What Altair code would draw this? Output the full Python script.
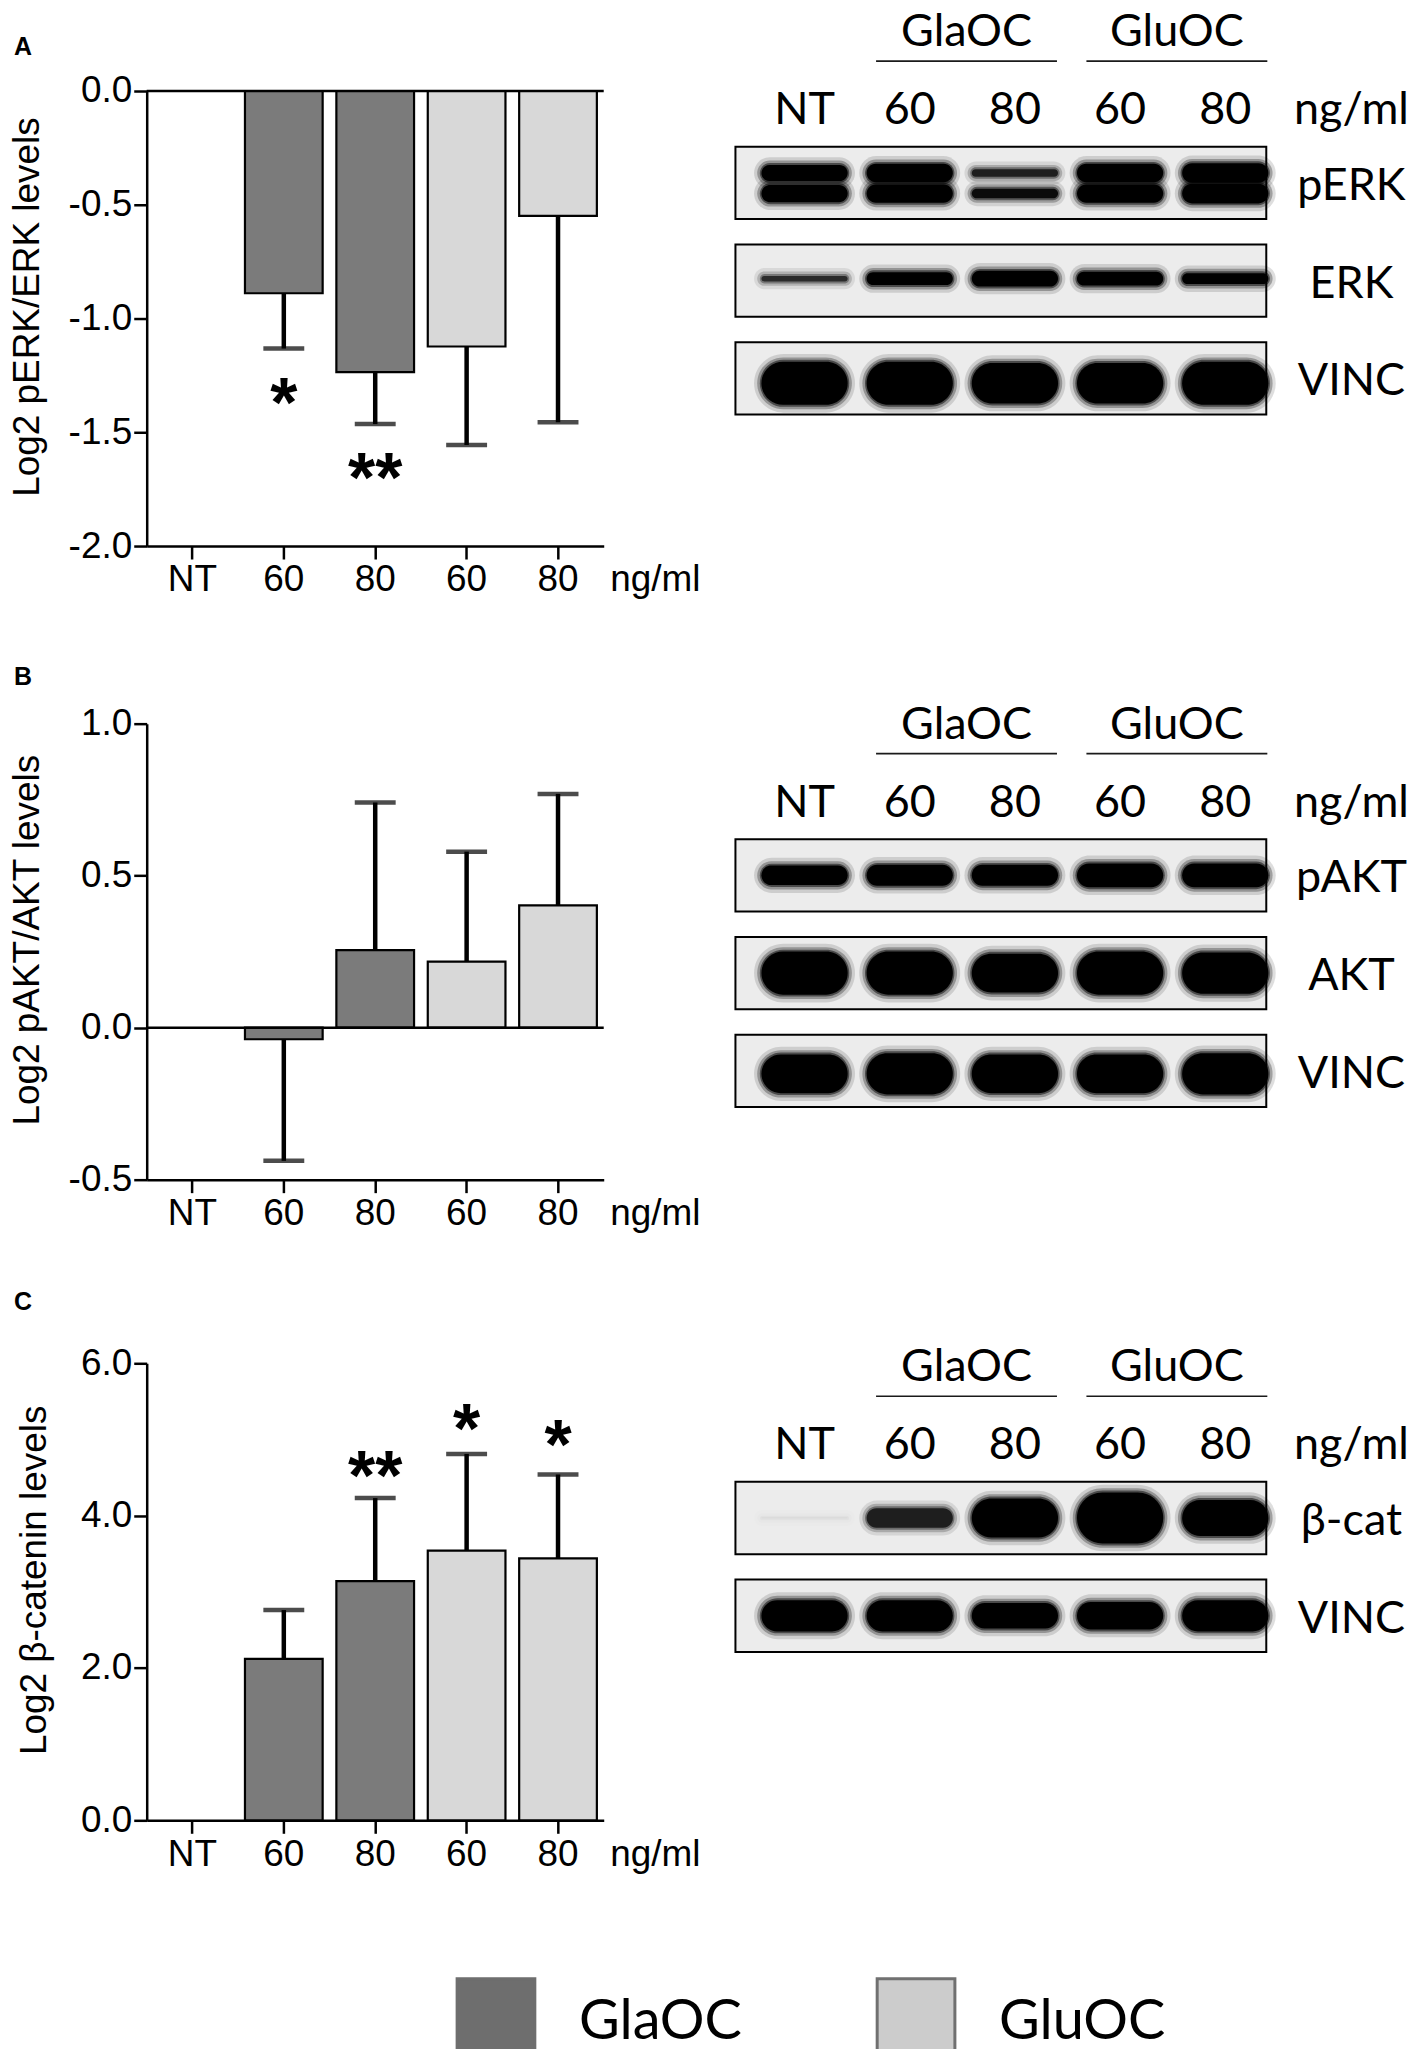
import altair as alt
import numpy as np
import pandas as pd

# ---------------- values ----------------
lane_keys = ["NT", "GlaOC 60", "GlaOC 80", "GluOC 60", "GluOC 80"]
lane_labels = ["NT", "60", "80", "60", "80"]
lane_groups = ["NT", "GlaOC", "GlaOC", "GluOC", "GluOC"]
group_names = ["GlaOC", "GluOC"]
dose_unit = "ng/ml"

# Panel A : Log2 pERK/ERK
perk_mean = [0.0, -0.889, -1.236, -1.123, -0.549]
perk_err = [0.0, 0.243, 0.228, 0.433, 0.907]
perk_stars = ["", "*", "**", "", ""]
perk_star_at = [np.nan, -1.30, -1.63, np.nan, np.nan]
perk_ticks = [0.0, -0.5, -1.0, -1.5, -2.0]

# Panel B : Log2 pAKT/AKT
pakt_mean = [0.0, -0.038, 0.255, 0.217, 0.402]
pakt_err = [0.0, 0.400, 0.486, 0.362, 0.367]
pakt_stars = ["", "", "", "", ""]
pakt_star_at = [np.nan, np.nan, np.nan, np.nan, np.nan]
pakt_ticks = [1.0, 0.5, 0.0, -0.5]

# Panel C : Log2 beta-catenin
bcat_mean = [0.0, 2.12, 3.14, 3.54, 3.44]
bcat_err = [0.0, 0.64, 1.09, 1.27, 1.10]
bcat_stars = ["", "", "**", "*", "*"]
bcat_star_at = [np.nan, np.nan, 4.73, 5.34, 5.13]
bcat_ticks = [0.0, 2.0, 4.0, 6.0]

# Western blot band strengths per lane (0 = no band, 1 = saturated)
perk_upper = [0.85, 0.95, 0.45, 0.95, 1.0]
perk_lower = [0.90, 0.95, 0.55, 0.95, 1.0]
erk_band = [0.40, 0.80, 0.95, 0.85, 0.70]
vinc_a = [1.0, 1.0, 0.95, 0.95, 1.0]
pakt_band = [0.80, 0.85, 0.85, 0.95, 0.95]
akt_band = [1.0, 1.0, 0.92, 1.0, 0.97]
vinc_b = [0.95, 1.0, 0.95, 0.95, 1.0]
bcat_band = [0.03, 0.45, 0.80, 1.0, 0.75]
vinc_c = [0.95, 0.95, 0.80, 0.85, 0.95]

# ---------------- styling / layout ----------------
FONT = "Liberation Sans, Arial, Helvetica, sans-serif"
BLOT_FONT = "Lato, 'Open Sans', sans-serif"
BAR_W = 458
BLOT_W = 673
COL_GAP = 132
ROW_GAP = 160
BAR_DARK, BAR_LIGHT = "#7b7b7b", "#d8d8d8"

UNIT_PX = 98.0
BLOT_X_DOMAIN = [-0.657, 5.728]
BOX_X = (-0.657, 4.39)
BOX_HALF = 0.37
LANE_HALF = 0.41
FIRST_ROW = 2
LABEL_X = 5.2
HEADER_Y = 0.458
HEADER_LINE_Y = 0.755
LANE_Y = 1.258
# (extra half-height, extra half-width, opacity factor)
HALOS = [(0.0, 0.0, 1.0), (0.02, 0.015, 0.5), (0.045, 0.04, 0.28), (0.08, 0.07, 0.13)]

Y_LABEL_EXPR = "(datum.value < 0 ? '-' : '') + format(abs(datum.value), '.1f')"
X_LABEL_EXPR = "datum.value == 'NT' ? 'NT' : slice(datum.value, -2)"


def bar_panel(letter, letter_offset, ytitle, title_x, means, errs, stars, star_at,
              ticks, height, zero_rule):
    df = pd.DataFrame({"key": lane_keys, "group": lane_groups, "mean": means,
                       "err": errs, "star": stars, "star_at": star_at})
    df["end"] = df["mean"] + np.sign(df["mean"]) * df["err"]
    df["base"] = 0.0
    bars = df[df["key"] != "NT"]
    stars_df = df[df["star"] != ""]

    xsc = alt.Scale(domain=lane_keys, paddingInner=0.15, paddingOuter=0.075)
    xaxis = alt.Axis(title=dose_unit, labelExpr=X_LABEL_EXPR, labelAngle=0,
                     labelFont=FONT, labelFontSize=37, labelColor="black", labelPadding=3,
                     tickSize=13, tickWidth=2.5, tickColor="black",
                     domainColor="black", domainWidth=2.5, grid=False,
                     titleFont=FONT, titleFontSize=37, titleFontWeight="normal",
                     titleColor="black", titleX=BAR_W + 6, titleY=45,
                     titleAlign="left", titleBaseline="alphabetic")
    ysc = alt.Scale(domain=[min(ticks), max(ticks)], nice=False, zero=False)
    yaxis = alt.Axis(title=ytitle, values=ticks, labelExpr=Y_LABEL_EXPR,
                     labelFont=FONT, labelFontSize=37, labelColor="black", labelPadding=2,
                     labelFlush=False, labelOverlap=False,
                     tickSize=13, tickWidth=2.5, tickColor="black",
                     domainColor="black", domainWidth=2.5, grid=False,
                     titleFont=FONT, titleFontSize=37, titleFontWeight="normal",
                     titleColor="black", titleAngle=270, titleX=title_x,
                     titleY=height / 2 - 12, titleBaseline="middle", titleAlign="center")
    X = alt.X("key:N", scale=xsc, axis=xaxis, sort=lane_keys)

    def Y(f):
        return alt.Y(f, type="quantitative", scale=ysc, axis=yaxis)

    layers = [
        alt.Chart(bars).mark_bar(stroke="black", strokeWidth=2.2).encode(
            x=X, y=Y("mean"), y2="base:Q",
            color=alt.Color("group:N", scale=alt.Scale(domain=group_names,
                                                       range=[BAR_DARK, BAR_LIGHT]),
                            legend=None)),
    ]
    if zero_rule:
        layers.append(alt.Chart(pd.DataFrame({"zero": [0.0]})).mark_rule(
            color="black", strokeWidth=2.5).encode(y=Y("zero")))
    layers += [
        alt.Chart(bars).mark_rule(color="black", strokeWidth=4.5).encode(
            x=X, y=Y("mean"), y2="end:Q"),
        alt.Chart(bars).mark_tick(color="black", thickness=4.5, size=41).encode(
            x=X, y=Y("end")),
    ]
    if len(stars_df):
        layers.append(alt.Chart(stars_df).mark_text(
            font=FONT, fontSize=70, fontWeight="bold", color="black",
            baseline="alphabetic", dy=40).encode(x=X, y=Y("star_at"), text="star:N"))
    return alt.layer(*layers).properties(
        width=BAR_W, height=height,
        title=alt.TitleParams(letter, anchor="start", frame="group", dx=-133, dy=25,
                              offset=letter_offset, font=FONT, fontSize=25,
                              fontWeight="bold", color="black", baseline="alphabetic"))


def blot_panel(spec, top_unit, height):
    xsc = alt.Scale(domain=BLOT_X_DOMAIN, nice=False, zero=False)
    ysc = alt.Scale(domain=[top_unit, top_unit + height / UNIT_PX], reverse=True,
                    nice=False, zero=False)

    def X(f):
        return alt.X(f, type="quantitative", scale=xsc, axis=None)

    def Y(f):
        return alt.Y(f, type="quantitative", scale=ysc, axis=None)

    box_rows, band_rows, label_rows = [], [], []
    for r, (name, sigs, T, offs) in enumerate(spec):
        yc = FIRST_ROW + r
        box_rows.append({"x": BOX_X[0], "x2": BOX_X[1],
                         "y": yc - BOX_HALF, "y2": yc + BOX_HALF})
        label_rows.append({"x": LABEL_X, "y": yc + 0.03, "t": name})
        for sig, off in zip(sigs, offs):
            for i, s in enumerate(sig):
                band_rows.append({"lane": i, "yc": yc + off,
                                  "half": T * s ** 1.2 / 2.0,
                                  "op": min(1.0, 1.6 * s)})
    bands = pd.DataFrame(band_rows)

    layers = [alt.Chart(pd.DataFrame(box_rows)).mark_rect(
        fill="#ececec", stroke="black", strokeWidth=2).encode(
        x=X("x"), x2="x2:Q", y=Y("y"), y2="y2:Q")]
    for ey, ex, f in reversed(HALOS):
        d = pd.DataFrame({"x": bands["lane"] - LANE_HALF - ex,
                          "x2": bands["lane"] + LANE_HALF + ex,
                          "y": bands["yc"] - bands["half"] - ey,
                          "y2": bands["yc"] + bands["half"] + ey,
                          "op": bands["op"] * f})
        layers.append(alt.Chart(d).mark_rect(color="black", cornerRadius=200).encode(
            x=X("x"), x2="x2:Q", y=Y("y"), y2="y2:Q",
            opacity=alt.Opacity("op:Q", scale=None)))

    txt = dict(font=BLOT_FONT, fontSize=45, color="black", align="center",
               baseline="middle")
    layers.append(alt.Chart(pd.DataFrame(label_rows)).mark_text(**txt).encode(
        x=X("x"), y=Y("y"), text="t:N"))
    lane_df = pd.DataFrame({"x": list(range(len(lane_labels))) + [LABEL_X],
                            "y": LANE_Y, "t": lane_labels + [dose_unit]})
    layers.append(alt.Chart(lane_df).mark_text(**txt).encode(
        x=X("x"), y=Y("y"), text="t:N"))

    head_rows, line_rows = [], []
    for g in group_names:
        idx = [i for i, gg in enumerate(lane_groups) if gg == g]
        head_rows.append({"x": (idx[0] + idx[-1]) / 2 + 0.04, "y": HEADER_Y, "t": g})
        line_rows.append({"x": idx[0] - 0.32, "x2": idx[-1] + 0.40, "y": HEADER_LINE_Y})
    layers.append(alt.Chart(pd.DataFrame(head_rows)).mark_text(**txt).encode(
        x=X("x"), y=Y("y"), text="t:N"))
    layers.append(alt.Chart(pd.DataFrame(line_rows)).mark_rule(
        color="#1a1a1a", strokeWidth=1.6).encode(x=X("x"), x2="x2:Q", y=Y("y")))
    return alt.layer(*layers).properties(width=BLOT_W, height=height)


def legend_panel():
    leg = pd.DataFrame({"name": group_names, "idx": [0.0, 1.0]})
    xsc = alt.Scale(domain=[-0.739, 0.349], nice=False, zero=False)
    ysc = alt.Scale(domain=[0, 1], reverse=True, nice=False, zero=False)
    rect = alt.Chart(leg).transform_calculate(
        x2="datum.idx + 0.185", top="-0.03", bot="1"
    ).mark_rect(strokeWidth=3).encode(
        x=alt.X("idx:Q", scale=xsc, axis=None), x2="x2:Q",
        y=alt.Y("top:Q", scale=ysc, axis=None), y2="bot:Q",
        fill=alt.Fill("name:N", scale=alt.Scale(domain=group_names,
                                                range=["#6e6e6e", "#cccccc"]), legend=None),
        stroke=alt.Stroke("name:N", scale=alt.Scale(domain=group_names,
                                                    range=["#6e6e6e", "#707070"]), legend=None))
    text = alt.Chart(leg).transform_calculate(
        tx="datum.idx + 0.29", ty="0.83"
    ).mark_text(font=BLOT_FONT, fontSize=56, color="black", align="left",
                baseline="alphabetic").encode(
        x=alt.X("tx:Q", scale=xsc, axis=None),
        y=alt.Y("ty:Q", scale=ysc, axis=None), text="name:N")
    return alt.layer(rect, text).properties(width=BAR_W, height=70)


bar_a = bar_panel("A", 17, "Log2 pERK/ERK levels", -119.5, perk_mean, perk_err,
                  perk_stars, perk_star_at, perk_ticks, 456, True)
bar_b = bar_panel("B", 20, "Log2 pAKT/AKT levels", -119.5, pakt_mean, pakt_err,
                  pakt_stars, pakt_star_at, pakt_ticks, 457, True)
bar_c = bar_panel("C", 34, "Log2 β-catenin levels", -112, bcat_mean, bcat_err,
                  bcat_stars, bcat_star_at, bcat_ticks, 458, False)

blot_a = blot_panel([("pERK", [perk_upper, perk_lower], 0.2, [-0.1, 0.11]),
                     ("ERK", [erk_band], 0.17, [-0.02]),
                     ("VINC", [vinc_a], 0.44, [0.05])], 1.061, 474)
blot_b = blot_panel([("pAKT", [pakt_band], 0.26, [0.0]),
                     ("AKT", [akt_band], 0.44, [0.0]),
                     ("VINC", [vinc_b], 0.42, [0.03])], 0.449, 481)
blot_c = blot_panel([("β-cat", [bcat_band], 0.52, [0.0]),
                     ("VINC", [vinc_c], 0.34, [0.0])], 0.418, 459)

chart = alt.concat(bar_a, blot_a, bar_b, blot_b, bar_c, blot_c, legend_panel(),
                   columns=2, spacing={"row": ROW_GAP, "column": COL_GAP},
                   bounds="flush",
                   padding={"left": 0, "top": -1, "right": 0, "bottom": 0}
                   ).configure_view(stroke=None)

chart.save("out.html", embed_options={"renderer": "svg", "actions": False})
